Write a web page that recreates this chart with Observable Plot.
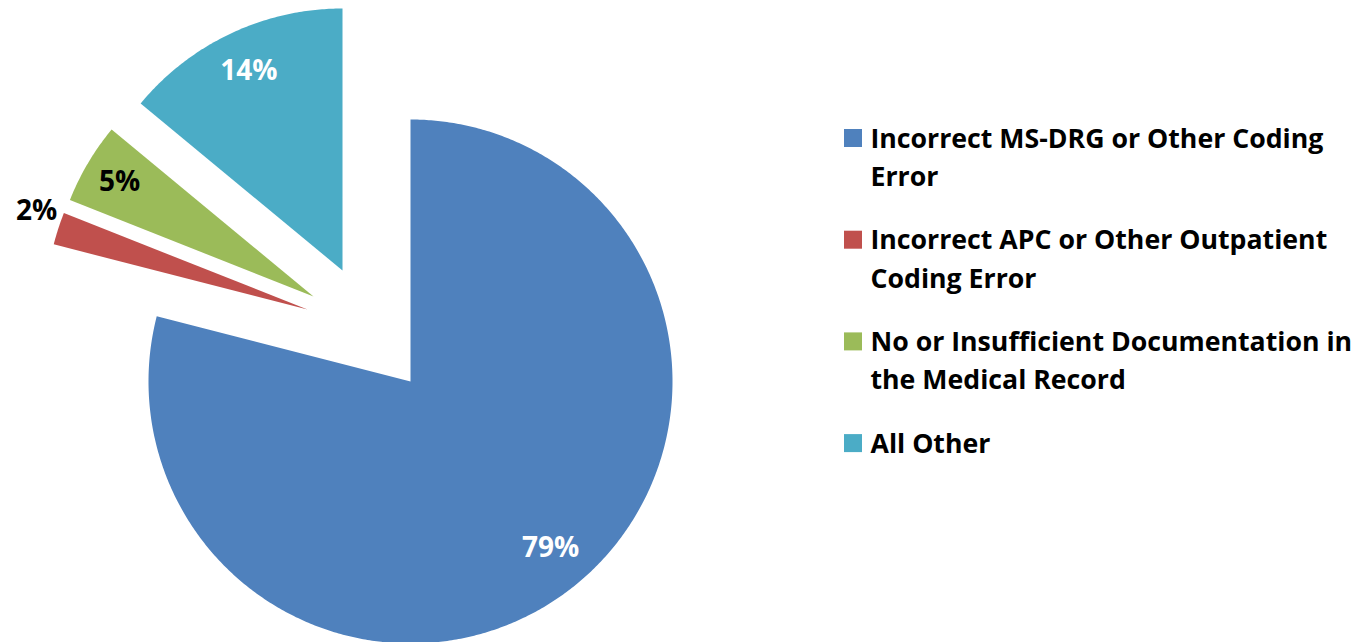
<!DOCTYPE html>
<html><head><meta charset="utf-8">
<script src="https://cdn.jsdelivr.net/npm/d3@7"></script>
<script src="https://cdn.jsdelivr.net/npm/@observablehq/plot@0.6"></script>
<style>html,body{margin:0;padding:0;background:#fff} svg{display:block}</style>
</head><body><div id="chart"></div>
<script>
// ---- data ----
const categories = [
  "Incorrect MS-DRG or Other Coding Error",
  "Incorrect APC or Other Outpatient Coding Error",
  "No or Insufficient Documentation in the Medical Record",
  "All Other"
];
const shares = [79, 2, 5, 14];
const legendLines = [
  ["Incorrect MS-DRG or Other Coding", "Error"],
  ["Incorrect APC or Other Outpatient", "Coding Error"],
  ["No or Insufficient Documentation in", "the Medical Record"],
  ["All Other"]
];
const colors = ["#4F81BD", "#C0504D", "#9BBB59", "#4BACC6"];
const labelColors = ["white", "black", "black", "white"];

// ---- layout ----
const W = 1353, H = 642;
const cx = 410, cy = 381, R = 262;
const explode = [[0, 0], [-103, -72], [-97, -85], [-68, -111]];
const labelRadius = [0.83, 1.1, 0.86, 0.84];
const labelAngleShift = [-2.3, 2, 0, 0]; // degrees
const legendX = 844, legendTop = 147, legendStep = 101.7, legendLine = 38.5, keySize = 18;

const arcs = d3.pie().sort(null).value(d => d)(shares);
const slicePts = [];
arcs.forEach((a, i) => {
  const ox = cx + explode[i][0], oy = cy + explode[i][1];
  slicePts.push({cat: categories[i], x: ox, y: oy});
  const n = Math.max(4, Math.ceil((a.endAngle - a.startAngle) / (Math.PI / 360)));
  for (let k = 0; k <= n; k++) {
    const t = a.startAngle + (a.endAngle - a.startAngle) * k / n;
    slicePts.push({cat: categories[i], x: ox + R * Math.sin(t), y: oy - R * Math.cos(t)});
  }
});
const labels = arcs.map((a, i) => {
  const m = (a.startAngle + a.endAngle) / 2 + labelAngleShift[i] * Math.PI / 180;
  const ox = cx + explode[i][0], oy = cy + explode[i][1];
  return {text: shares[i] + "%", color: labelColors[i],
          x: ox + labelRadius[i] * R * Math.sin(m), y: oy - labelRadius[i] * R * Math.cos(m)};
});
const legendRows = [];
legendLines.forEach((lines, i) => lines.forEach((t, j) =>
  legendRows.push({t, x: legendX + 26, y: legendTop + i * legendStep + j * legendLine})));
const legendKeys = categories.map((c, i) => ({cat: c,
  x1: legendX, x2: legendX + keySize,
  y1: legendTop + i * legendStep - keySize, y2: legendTop + i * legendStep}));

const chart = Plot.plot({
  width: W, height: H, margin: 0,
  x: {domain: [0, W], range: [0, W], axis: null},
  y: {domain: [0, H], range: [0, H], axis: null},
  color: {domain: categories, range: colors},
  style: {fontFamily: "'Open Sans', Lato, sans-serif", background: "white"},
  marks: [
    Plot.line(slicePts, {x: "x", y: "y", z: "cat", fill: "cat", stroke: "none", curve: "linear"}),
    Plot.text(labels, {filter: d => d.color === "white", x: "x", y: "y", text: "text", fill: "white", fontSize: 28, fontWeight: "bold"}),
    Plot.text(labels, {filter: d => d.color === "black", x: "x", y: "y", text: "text", fill: "black", fontSize: 28, fontWeight: "bold"}),
    Plot.rect(legendKeys, {x1: "x1", x2: "x2", y1: "y1", y2: "y2", fill: "cat"}),
    Plot.text(legendRows, {x: "x", y: "y", text: "t", textAnchor: "start", lineAnchor: "bottom", fontSize: 26.7, fontWeight: "bold", fill: "black"})
  ]
});
document.getElementById("chart").appendChild(chart);
</script>
</body></html>
